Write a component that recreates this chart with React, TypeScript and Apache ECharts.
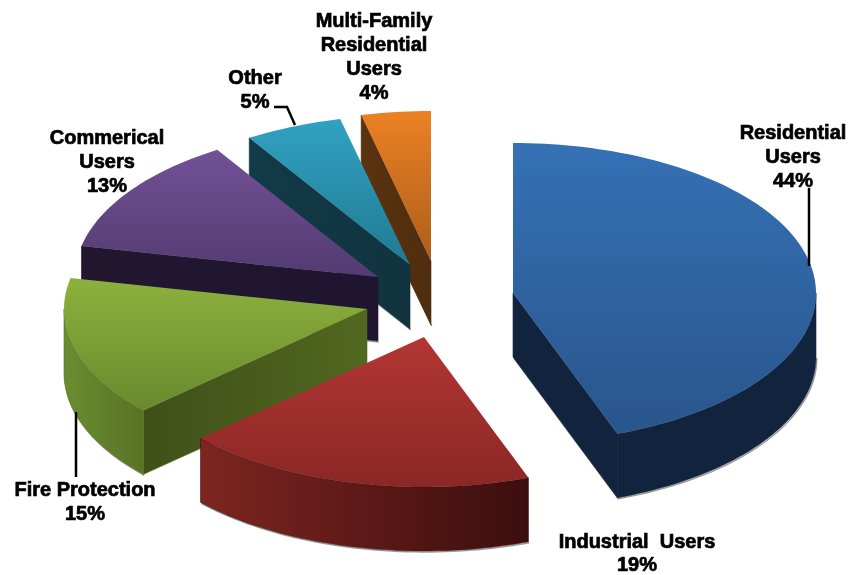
import React, { useEffect, useRef } from "react";
import * as echarts from "echarts";

const categories = ["Residential\nUsers", "Industrial  Users", "Fire Protection", "Commerical\nUsers", "Other", "Multi-Family\nResidential\nUsers"];
// Values as measured from the slice angles; the labels show them rounded.
const shares = [44.4, 18.8, 15.1, 12.8, 5.2, 3.7];

// Projection of the tilted pie.
const RX = 303;
const RY = 150;
const DEPTH = 64;
const apexes = [[513, 293], [424, 337], [367, 309], [378, 277], [410, 265], [431, 261]];

const topColors = [
  ["#3571b6", "#29558b"],
  ["#b33633", "#8a2725"],
  ["#8db13d", "#688a2e"],
  ["#725197", "#533a70"],
  ["#31a2c2", "#217a92"],
  ["#ec8124", "#ab5e1a"],
];
const rimColors = [
  ["#12233d", "#12233d"],
  ["#7e2521", "#3b0e0d"],
  ["#6b8d31", "#587325"],
  ["#231730", "#231730"],
  ["#133c4b", "#133c4b"],
  ["#55300f", "#55300f"],
];
const wallColors = [
  ["#12233d", "#12233d"],
  ["#4a1311", "#4a1311"],
  ["#3f5018", "#526720"],
  ["#231730", "#1f1530"],
  ["#123a48", "#11333f"],
  ["#5a3310", "#4f2d0e"],
];

const labelAnchors = [[793, 120], [637, 530], [85, 477], [107, 125], [255, 65], [374, 8]];
const labelLineHeights = [24, 22.5, 24, 24, 24, 24];
const leaderLines = [
  [[809, 188], [809, 266]],
  [[274, 107], [287, 107], [295, 125]],
  [[76, 412], [76, 477]],
];

const grad = (c: string[], vertical: boolean) =>
  new echarts.graphic.LinearGradient(0, 0, vertical ? 0 : 1, vertical ? 1 : 0, [
    { offset: 0, color: c[0] },
    { offset: 1, color: c[1] },
  ]);

const total = shares.reduce((a, b) => a + b, 0);
const starts: number[] = [];
shares.reduce((acc, v, i) => {
  starts[i] = acc;
  return acc + (v / total) * 360;
}, 0);

function rimPoint(i: number, deg: number): number[] {
  const r = (deg * Math.PI) / 180;
  return [apexes[i][0] + RX * Math.sin(r), apexes[i][1] - RY * Math.cos(r)];
}
function arcPoints(i: number, a: number, b: number): number[][] {
  const n = Math.max(2, Math.ceil((b - a) / 1.5));
  const out: number[][] = [];
  for (let k = 0; k <= n; k++) out.push(rimPoint(i, a + ((b - a) * k) / n));
  return out;
}
const down = (p: number[]) => [p[0], p[1] + DEPTH];
const edge = (p: number[]) => [p[0] + 0.8, p[1] + DEPTH + 1];

function renderSlice(params: any, api: any) {
  const i = shares.length - 1 - params.dataIndex;
  const sweep = (api.value(0) / total) * 360;
  const a = starts[i];
  const b = a + sweep;
  const P = apexes[i];
  const M = rimPoint(i, (a + b) / 2);
  const children: any[] = [];
  const walls: any[] = [];
  let shadow: number[][] = [];

  [a, b].forEach((deg) => {
    const Q = rimPoint(i, deg);
    const ex = Q[0] - P[0];
    const ey = Q[1] - P[1];
    const interior = ex * (M[1] - P[1]) - ey * (M[0] - P[0]);
    if (interior * ex < 0 && Math.abs(ex) > 1) {
      walls.push({
        type: "polygon",
        shape: { points: [P, Q, down(Q), down(P)] },
        style: { fill: grad(wallColors[i], false), stroke: wallColors[i][1], lineWidth: 0.6 },
      });
      shadow = deg === a ? [edge(P), edge(Q)] : [edge(Q), edge(P)];
    }
  });

  const ra = Math.max(a, 90);
  const rb = Math.min(b, 270);
  if (rb > ra) {
    const arc = arcPoints(i, ra, rb);
    walls.push({
      type: "polygon",
      shape: { points: [...arc, ...arc.slice().reverse().map(down)] },
      style: { fill: grad(rimColors[i], false), stroke: rimColors[i][1], lineWidth: 0.6 },
    });
    const low = arc.map(edge);
    shadow = i === 0 || i === 2 ? [...low, edge(P)] : low;
  }
  if (shadow.length) {
    children.push({
      type: "polyline",
      shape: { points: shadow },
      style: { stroke: "#9a9a9a", lineWidth: 1.4, fill: "none" },
    });
  }
  children.push(...walls);
  children.push({
    type: "polygon",
    shape: { points: [P, ...arcPoints(i, a, b)] },
    style: { fill: grad(topColors[i], true) },
  });
  return { type: "group", children };
}

export default function App() {
  const ref = useRef<HTMLDivElement>(null);
  useEffect(() => {
    const chart = echarts.init(ref.current!, undefined, { renderer: "svg" });
    chart.setOption({
      animation: false,
      backgroundColor: "#ffffff",
      series: [
        {
          type: "custom",
          coordinateSystem: "none",
          renderItem: renderSlice,
          data: shares.slice().reverse().map((v) => [v]),
          silent: true,
        },
      ],
      graphic: [
        ...leaderLines.map((pts) => ({
          type: "polyline",
          z: 10,
          shape: { points: pts },
          style: { stroke: "#000000", lineWidth: 2.5, fill: "none" },
        })),
        ...categories.map((c, i) => ({
          type: "text",
          z: 11,
          x: labelAnchors[i][0],
          y: labelAnchors[i][1],
          style: {
            text: `${c}\n${Math.round(shares[i])}%`,
            font: 'bold 20px "Liberation Sans", Arial, sans-serif',
            fill: "#000000",
            stroke: "#000000",
            lineWidth: 0.7,
            align: "center",
            verticalAlign: "top",
            lineHeight: labelLineHeights[i],
          },
        })),
      ],
    });
    return () => chart.dispose();
  }, []);
  return (
    <div
      ref={ref}
      style={{ position: "fixed", left: 0, top: 0, width: 859, height: 575, background: "#fff", filter: "blur(0.6px)" }}
    />
  );
}
